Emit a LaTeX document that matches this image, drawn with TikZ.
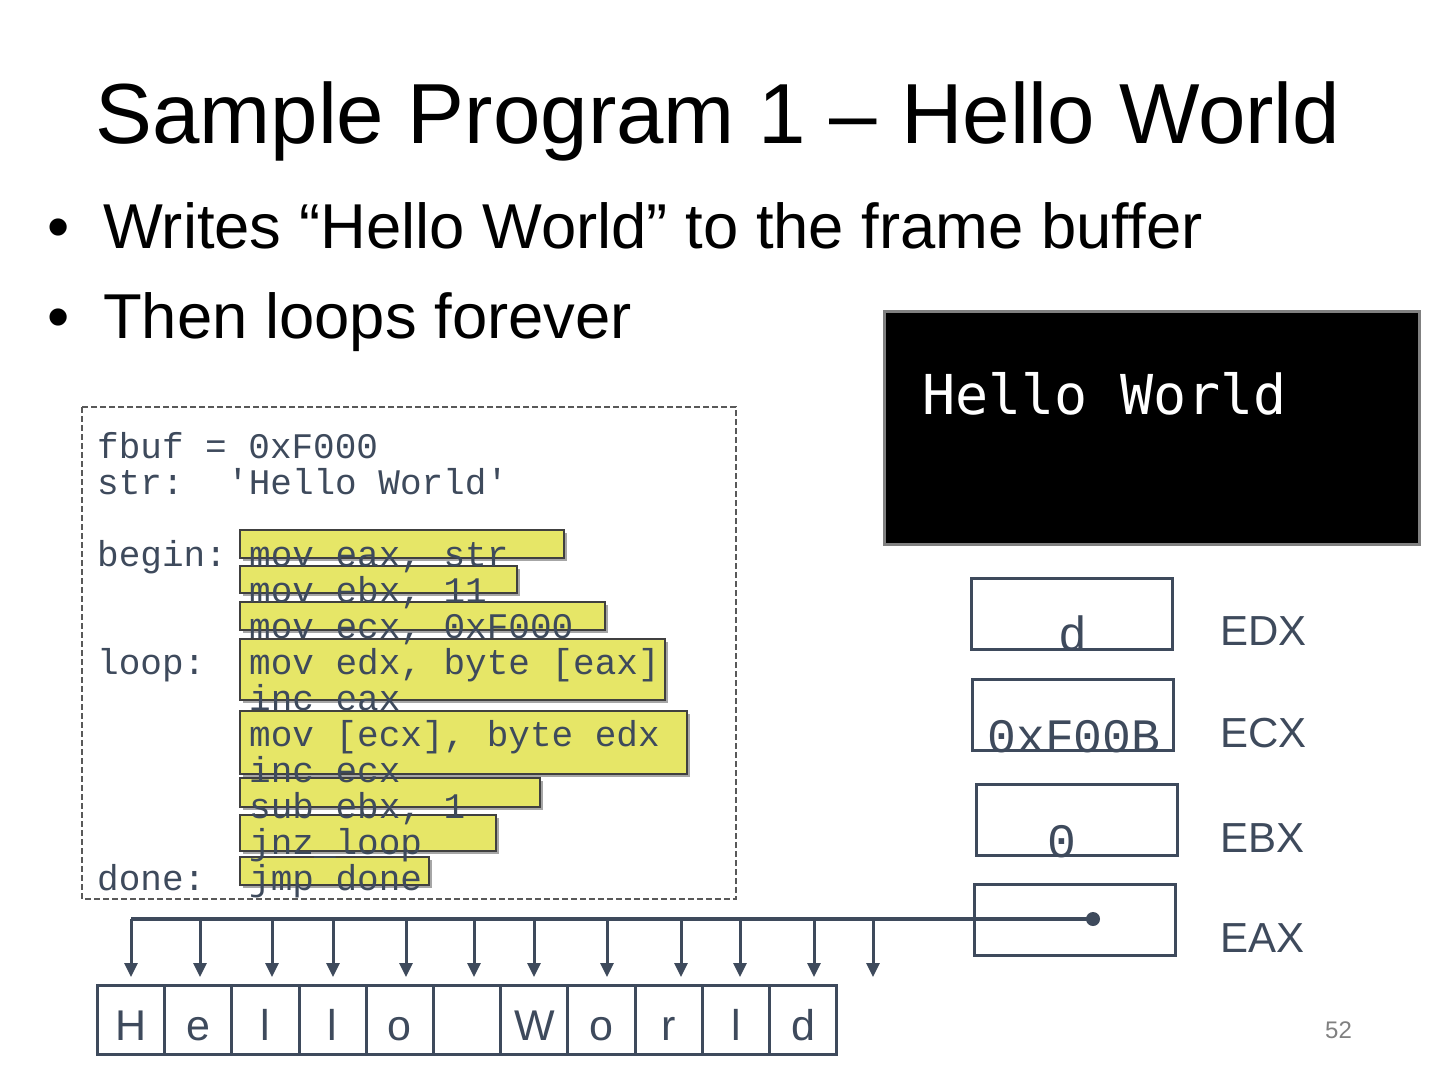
\documentclass[tikz,border=0pt]{standalone}
\usepackage{fontspec}
\setmainfont{Liberation Sans}
\newfontfamily\codefont{Liberation Mono}
\newfontfamily\screenfont{DejaVu Sans Mono}
\usetikzlibrary{arrows.meta,positioning}

\definecolor{slate}{HTML}{3E4A5C}
\definecolor{hilite}{HTML}{E6E667}

\tikzset{
  codeline/.style={anchor=base west, inner sep=0pt, text=slate,
    font=\codefont\fontsize{36}{36}\selectfont},
  reglabel/.style={anchor=base west, inner sep=0pt, text=slate,
    font=\fontsize{42}{42}\selectfont},
  regbox/.style={draw=slate, line width=3pt, minimum width=201pt,
    minimum height=71pt, inner sep=0pt},
  regval/.style={anchor=base, inner sep=0pt, text=slate,
    font=\codefont\fontsize{48}{48}\selectfont},
  cell/.style={draw=slate, line width=3pt, minimum width=67.2pt,
    minimum height=69pt, inner sep=0pt, outer sep=0pt, text=slate,
    text height=41pt, text depth=0pt, font=\fontsize{43}{43}\selectfont},
  busarrow/.style={draw=slate, line width=3pt,
    -{Triangle[length=14pt,width=13pt]}},
  hibox/.style={fill=hilite, draw=black!75, line width=1.5pt},
  bullettext/.style={anchor=base west, inner sep=0pt,
    font=\fontsize{63.4}{63.4}\selectfont},
}

\begin{document}
\begin{tikzpicture}[x=1pt, y=-1pt]
    \useasboundingbox (0,0) rectangle (1440,1080);

    %----------------------------------------
    % TITLE AND BULLETS
    %----------------------------------------
    \node[anchor=base west, inner sep=0pt, font=\fontsize{85.3}{85.3}\selectfont]
      (title) at (95,143) {Sample Program 1 – Hello World};

    \node[bullettext] (dot1) at (47,248) {•};
    \node[bullettext] (bul1) at (103,248) {Writes “Hello World” to the frame buffer};
    \node[bullettext] (dot2) at (47,338) {•};
    \node[bullettext] (bul2) at (103,338) {Then loops forever};

    %----------------------------------------
    % FRAME BUFFER SCREEN
    %----------------------------------------
    \node[draw=black!50, line width=3pt, fill=black, minimum width=535pt,
      minimum height=233pt, inner sep=0pt] (screen) at (1151.5,427.5) {};
    \node[anchor=base west, inner sep=0pt, text=white,
      font=\screenfont\fontsize{55}{55}\selectfont]
      (screentext) at (922,414) {Hello World};

    %----------------------------------------
    % PROGRAM LISTING
    %----------------------------------------
    \draw[black!65, line width=1.5pt, dash pattern=on 6pt off 3pt]
      (82,407) rectangle (736,899);

    % highlight bars: right / top / bottom
    \foreach \r/\t/\b in {
        564/530/558,
        517/566/593,
        605/602/630,
        665/639/700,
        687/711/774,
        540/778/807,
        496/815/851,
        429/857/885
    }{
       \fill[black!35] (243,\t+3) rectangle (\r+3,\b+3);
       \draw[hibox] (240,\t) rectangle (\r,\b);
    }

    \node[codeline] (fbuf)  at (97,458)  {fbuf = 0xF000};
    \node[codeline] (strl)  at (97,494)  {str:};
    \node[codeline] (strv)  at (227,494) {'Hello World'};
    \node[codeline] (begin) at (97,566)  {begin:};
    \node[codeline] (loop)  at (97,674)  {loop:};
    \node[codeline] (done)  at (97,890)  {done:};

    % instructions: baseline / text
    \foreach \y/\txt in {
        566/{mov eax, str},
        602/{mov ebx, 11},
        638/{mov ecx, 0xF000},
        674/{mov edx, byte [eax]},
        710/{inc eax},
        746/{mov [ecx], byte edx},
        782/{inc ecx},
        818/{sub ebx, 1},
        854/{jnz\_loop},
        890/{jmp done}
    }{
       \node[codeline] at (249,\y) {\txt};
    }

    %----------------------------------------
    % REGISTERS
    %----------------------------------------
    \node[regbox] (edx) at (1072,613.5) {};
    \node[regbox] (ecx) at (1073,715)   {};
    \node[regbox] (ebx) at (1077,820)   {};
    \node[regbox] (eax) at (1075,920)   {};

    \node[regval] (edxval) at ([xshift=1pt]edx.south)   {d};
    \node[regval] (ecxval) at ([xshift=1pt]ecx.south)   {0xF00B};
    \node[regval] (ebxval) at ([xshift=-15pt]ebx.south) {0};

    \node[reglabel] (edxname) at (1220,645) {EDX};
    \node[reglabel] (ecxname) at (1220,747) {ECX};
    \node[reglabel] (ebxname) at (1220,852) {EBX};
    \node[reglabel] (eaxname) at (1220,952) {EAX};

    %----------------------------------------
    % MEMORY CELLS
    %----------------------------------------
    \node[cell] (c1) at (131.1,1019.5) {H};
    \node[cell, right=0pt of c1]  (c2)  {e};
    \node[cell, right=0pt of c2]  (c3)  {l};
    \node[cell, right=0pt of c3]  (c4)  {l};
    \node[cell, right=0pt of c4]  (c5)  {o};
    \node[cell, right=0pt of c5]  (c6)  {};
    \node[cell, right=0pt of c6]  (c7)  {W};
    \node[cell, right=0pt of c7]  (c8)  {o};
    \node[cell, right=0pt of c8]  (c9)  {r};
    \node[cell, right=0pt of c9]  (c10) {l};
    \node[cell, right=0pt of c10] (c11) {d};

    %----------------------------------------
    % EAX POINTER BUS
    %----------------------------------------
    \coordinate (ptr) at (1093,919);

    \foreach \i/\x in {1/131,2/200,3/272,4/333,5/406,6/474,
                       7/534,8/607,9/681,10/740,11/814,12/873}{
       \coordinate (tip\i) at (\x,977);
       \draw[busarrow] (tip\i |- ptr) -- (tip\i);
    }

    \draw[slate, line width=4.5pt] (tip1 |- ptr) -- (ptr);
    \fill[slate] (ptr) circle (7);

    % slide number
    \node[anchor=base west, inner sep=0pt, text=black!50,
      font=\fontsize{24}{24}\selectfont] (pagenum) at (1325,1038) {52};

\end{tikzpicture}
\end{document}
